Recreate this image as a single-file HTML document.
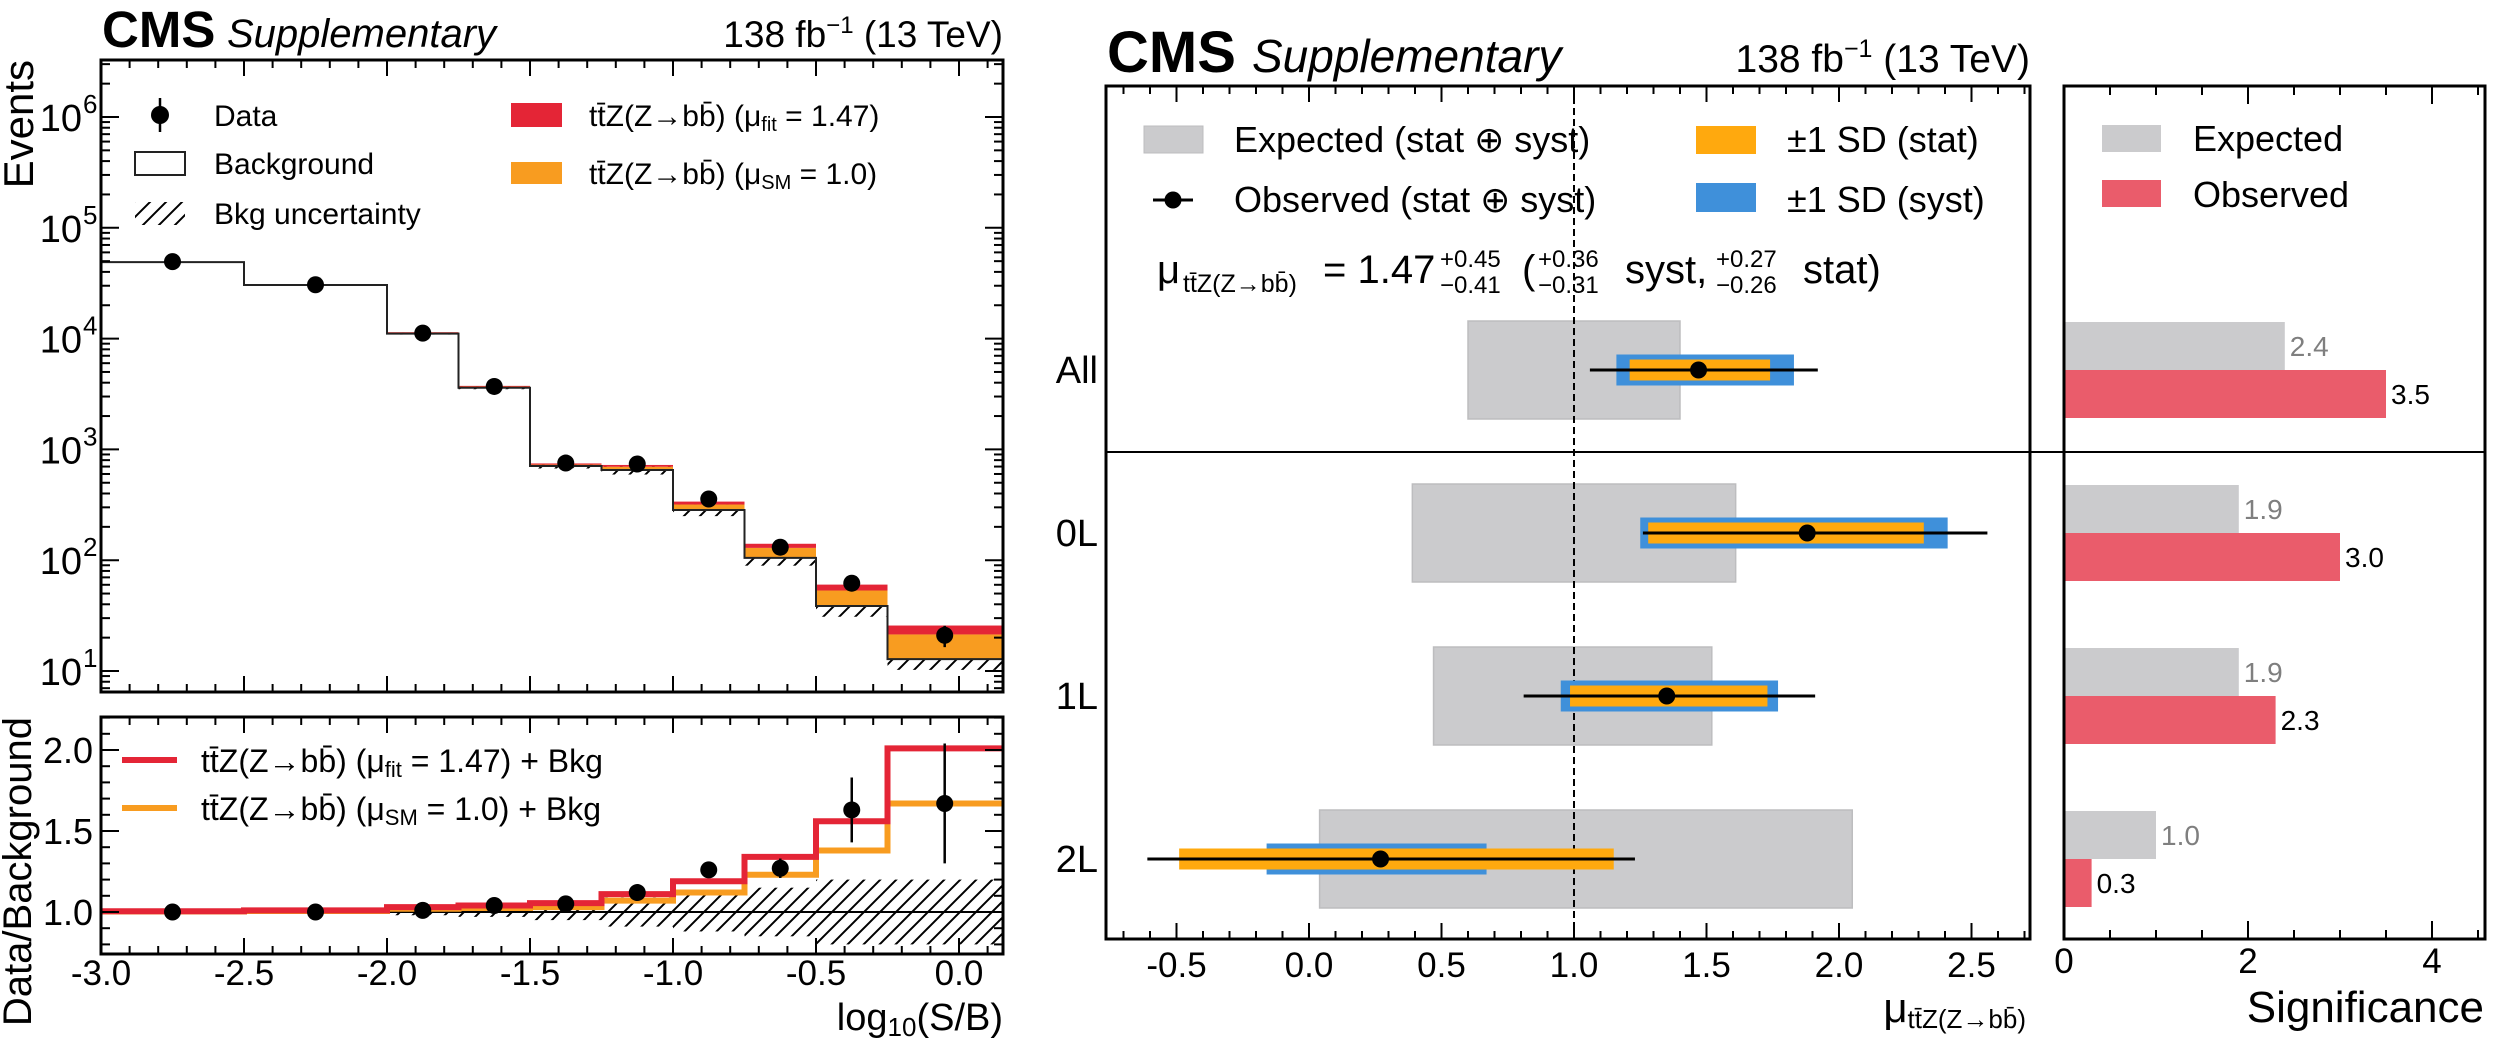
<!DOCTYPE html>
<html><head><meta charset="utf-8"><style>
html,body{margin:0;padding:0;background:#fff;}
svg{display:block;font-family:"Liberation Sans",Arial,sans-serif;}
</style></head><body>
<svg id="fig" xmlns="http://www.w3.org/2000/svg" width="2496" height="1049" viewBox="0 0 2496 1049">
<defs>
<pattern id="hatch" patternUnits="userSpaceOnUse" width="16" height="16">
<path d="M-4,4 L4,-4 M0,16 L16,0 M12,20 L20,12" stroke="#000" stroke-width="2"/>
</pattern>
<clipPath id="clipTop"><rect x="101" y="60" width="902" height="632"/></clipPath>
<clipPath id="clipRat"><rect x="101" y="717" width="902" height="237"/></clipPath>
<clipPath id="clipMid"><rect x="1106" y="86" width="924" height="853"/></clipPath>
</defs>
<g id="left"></g>
<g id="mid"></g>
<g id="right"></g>
</svg>
<script>
// ---------- Left chart data ----------
const binEdges = [-3.0, -2.5, -2.0, -1.75, -1.5, -1.25, -1.0, -0.75, -0.5, -0.25, 0.15];
const bkgCounts = [49000, 30500, 11100, 3600, 708, 652, 284, 105, 38.6, 12.8];
const dataCounts = [49500, 30600, 11200, 3700, 753, 738, 357, 131, 62, 21];
const sigFitRatio = [1.005, 1.01, 1.03, 1.04, 1.055, 1.11, 1.19, 1.34, 1.56, 2.01];
const sigSMRatio = [1.003, 1.006, 1.02, 1.025, 1.03, 1.07, 1.12, 1.23, 1.38, 1.67];
const dataRatio = [1.0, 1.0, 1.01, 1.04, 1.05, 1.12, 1.26, 1.27, 1.63, 1.67];
const dataRatioErr = [0.005, 0.006, 0.01, 0.015, 0.03, 0.03, 0.04, 0.06, 0.2, 0.37];
const bkgUnc = [0.01, 0.012, 0.02, 0.03, 0.05, 0.09, 0.12, 0.15, 0.2, 0.2];
const xTickLabels = ["-3.0", "-2.5", "-2.0", "-1.5", "-1.0", "-0.5", "0.0"];
const xTickValues = [-3.0, -2.5, -2.0, -1.5, -1.0, -0.5, 0.0];
const logTickExp = [1, 2, 3, 4, 5, 6];
const ratioTickLabels = ["1.0", "1.5", "2.0"];
const ratioTickValues = [1.0, 1.5, 2.0];
// ---------- Middle chart data ----------
const categories = ["All", "0L", "1L", "2L"];
const muObs = [1.47, 1.88, 1.35, 0.27];
const totLo = [1.06, 1.26, 0.81, -0.61];
const totHi = [1.92, 2.56, 1.91, 1.23];
const systLo = [1.16, 1.25, 0.95, -0.16];
const systHi = [1.83, 2.41, 1.77, 0.67];
const statLo = [1.21, 1.28, 0.985, -0.49];
const statHi = [1.74, 2.32, 1.73, 1.15];
const expLo = [0.60, 0.39, 0.47, 0.04];
const expHi = [1.40, 1.61, 1.52, 2.05];
const muTickLabels = ["-0.5", "0.0", "0.5", "1.0", "1.5", "2.0", "2.5"];
const muTickValues = [-0.5, 0.0, 0.5, 1.0, 1.5, 2.0, 2.5];
// ---------- Right chart data ----------
const sigExp = [2.4, 1.9, 1.9, 1.0];
const sigObs = [3.5, 3.0, 2.3, 0.3];
const sigTickLabels = ["0", "2", "4"];
const sigTickValues = [0, 2, 4];

const NS = "http://www.w3.org/2000/svg";
function mk(parent, tag, attrs, text) {
  const e = document.createElementNS(NS, tag);
  for (const k in attrs) e.setAttribute(k, attrs[k]);
  if (text !== undefined) e.textContent = text;
  parent.appendChild(e);
  return e;
}
const xL = v => 101 + (v + 3) * 286;
const yT = v => 117 + (6 - Math.log10(v)) * 110.8;
const yR = v => 912 - (v - 1) * 162;
const xM = v => 1309 + v * 265;
const catY = i => 370 + 163 * i;
const xS = v => 2064 + v * 92;
const AX = 101;

const L = document.getElementById('left');
const M = document.getElementById('mid');
const R = document.getElementById('right');

// ===== LEFT TOP =====
const gT = mk(L, 'g', {'clip-path': 'url(#clipTop)'});


for (let i = 0; i < bkgCounts.length; i++) {
  const x0 = xL(binEdges[i]), x1 = xL(binEdges[i + 1]);
  const b = bkgCounts[i];
  const h = mk(gT, 'rect', {x: x0, y: yT(b * (1 + bkgUnc[i])), width: x1 - x0, height: yT(b * (1 - bkgUnc[i])) - yT(b * (1 + bkgUnc[i])), fill: 'url(#hatch)'});
  
  
  const o = mk(gT, 'rect', {x: x0, y: yT(b * sigSMRatio[i]), width: x1 - x0, height: yT(b) - yT(b * sigSMRatio[i]), fill: '#f89c20'});
  
  
  const r = mk(gT, 'rect', {x: x0, y: yT(b * sigFitRatio[i]), width: x1 - x0, height: yT(b * sigSMRatio[i]) - yT(b * sigFitRatio[i]), fill: '#e42536'});
  
  
}
let dstep = 'M' + xL(binEdges[0]) + ',' + yT(bkgCounts[0]);
for (let i = 0; i < bkgCounts.length; i++) {
  if (i > 0) dstep += ' L' + xL(binEdges[i]) + ',' + yT(bkgCounts[i]);
  dstep += ' L' + xL(binEdges[i + 1]) + ',' + yT(bkgCounts[i]);
}
const bl = mk(gT, 'path', {d: dstep, fill: 'none', stroke: '#222', 'stroke-width': 2});


for (let i = 0; i < dataCounts.length; i++) {
  const cx = xL((binEdges[i] + binEdges[i + 1]) / 2);
  const c = mk(gT, 'circle', {cx: cx, cy: yT(dataCounts[i]), r: 8.5, fill: '#000'});
  
  
  const err = Math.sqrt(dataCounts[i]);
  mk(gT, 'line', {x1: cx, x2: cx, y1: yT(dataCounts[i] + err), y2: yT(Math.max(dataCounts[i] - err, 1)), stroke: '#000', 'stroke-width': 2.5});
}
function frame(par, x, y, w, h, name) {
  const f = mk(par, 'rect', {x: x, y: y, width: w, height: h, fill: 'none', stroke: '#000', 'stroke-width': 3});
  
  
}
function xTicks(par, sx, lo, hi, step, major, y0, y1, top) {
  for (let v = lo; v <= hi + 1e-9; v += step) {
    const isMaj = Math.abs(v / major - Math.round(v / major)) < 1e-6;
    const len = isMaj ? 16 : 8;
    const x = sx(v);
    mk(par, 'line', {x1: x, x2: x, y1: y1, y2: y1 - len, stroke: '#000', 'stroke-width': 2});
    if (top) mk(par, 'line', {x1: x, x2: x, y1: y0, y2: y0 + len, stroke: '#000', 'stroke-width': 2});
  }
}
frame(L, AX, 60, 1003 - AX, 632, 'events-axes-frame');
xTicks(L, xL, -3.0, 0.15, 0.1, 0.5, 60, 692, true);
for (let e = 0; e <= 6; e++) {
  for (let m = 1; m <= 9; m++) {
    const v = m * Math.pow(10, e);
    const y = yT(v);
    if (y < 60 || y > 692) continue;
    const len = m === 1 ? 18 : 9;
    mk(L, 'line', {x1: AX, x2: AX + len, y1: y, y2: y, stroke: '#000', 'stroke-width': 2});
    mk(L, 'line', {x1: 1003, x2: 1003 - len, y1: y, y2: y, stroke: '#000', 'stroke-width': 2});
  }
}
logTickExp.forEach(e => {
  const t = mk(L, 'text', {x: 82, y: yT(Math.pow(10, e)) + 14, 'font-size': 38, 'text-anchor': 'end'});
  
  
  t.textContent = '10';
  const s = mk(L, 'text', {x: 83, y: yT(Math.pow(10, e)) - 4, 'font-size': 26}, String(e));
  
  
});

// ===== LEFT RATIO =====
const gR = mk(L, 'g', {'clip-path': 'url(#clipRat)'});


for (let i = 0; i < bkgUnc.length; i++) {
  const x0 = xL(binEdges[i]), x1 = xL(binEdges[i + 1]);
  const hr = mk(gR, 'rect', {x: x0, y: yR(1 + bkgUnc[i]), width: x1 - x0, height: yR(1 - bkgUnc[i]) - yR(1 + bkgUnc[i]), fill: 'url(#hatch)'});
  
  
}
mk(gR, 'line', {x1: AX, x2: 1003, y1: yR(1), y2: yR(1), stroke: '#000', 'stroke-width': 2});
function stepPath(arr) {
  let d = '';
  for (let i = 0; i < arr.length; i++) {
    d += (i === 0 ? 'M' : ' L') + xL(binEdges[i]) + ',' + yR(arr[i]) + ' L' + xL(binEdges[i + 1]) + ',' + yR(arr[i]);
  }
  return d;
}
const ol = mk(gR, 'path', {d: stepPath(sigSMRatio), fill: 'none', stroke: '#f89c20', 'stroke-width': 6});


const rl = mk(gR, 'path', {d: stepPath(sigFitRatio), fill: 'none', stroke: '#e42536', 'stroke-width': 6});


for (let i = 0; i < dataRatio.length; i++) {
  const cx = xL((binEdges[i] + binEdges[i + 1]) / 2);
  mk(gR, 'line', {x1: cx, x2: cx, y1: yR(dataRatio[i] + dataRatioErr[i]), y2: yR(dataRatio[i] - dataRatioErr[i]), stroke: '#000', 'stroke-width': 2.5});
  const c = mk(gR, 'circle', {cx: cx, cy: yR(dataRatio[i]), r: 8.5, fill: '#000'});
  
  
}
frame(L, AX, 717, 1003 - AX, 237, 'ratio-axes-frame');
xTicks(L, xL, -3.0, 0.15, 0.1, 0.5, 717, 954, true);
for (let v = 0.8; v <= 2.2 + 1e-9; v += 0.1) {
  const maj = Math.abs(v * 2 - Math.round(v * 2)) < 1e-6;
  const len = maj ? 18 : 9;
  mk(L, 'line', {x1: AX, x2: AX + len, y1: yR(v), y2: yR(v), stroke: '#000', 'stroke-width': 2});
  mk(L, 'line', {x1: 1003, x2: 1003 - len, y1: yR(v), y2: yR(v), stroke: '#000', 'stroke-width': 2});
}
ratioTickLabels.forEach((s, i) => {
  const t = mk(L, 'text', {x: 93, y: yR(ratioTickValues[i]) + 13, 'font-size': 36, 'text-anchor': 'end'}, s);
  
  
});
xTickLabels.forEach((s, i) => {
  const t = mk(L, 'text', {x: xL(xTickValues[i]), y: 985, 'font-size': 35, 'text-anchor': 'middle'}, s);
  
  
});

// ===== MIDDLE =====
const gM = mk(M, 'g', {'clip-path': 'url(#clipMid)'});


for (let i = 0; i < categories.length; i++) {
  const cy = catY(i);
  const g = mk(gM, 'rect', {x: xM(expLo[i]), y: cy - 49, width: xM(expHi[i]) - xM(expLo[i]), height: 98, fill: '#cbcbcd', stroke: '#bdbdbf', 'stroke-width': 1.5});
  
  
}
mk(gM, 'line', {x1: xM(1), x2: xM(1), y1: 86, y2: 939, stroke: '#000', 'stroke-width': 2, 'stroke-dasharray': '7,4'});
for (let i = 0; i < categories.length; i++) {
  const cy = catY(i);
  const b = mk(gM, 'rect', {x: xM(systLo[i]), y: cy - 15.5, width: xM(systHi[i]) - xM(systLo[i]), height: 31, fill: '#3f90da'});
  
  
  const o = mk(gM, 'rect', {x: xM(statLo[i]), y: cy - 10.5, width: xM(statHi[i]) - xM(statLo[i]), height: 21, fill: '#ffa90e'});
  
  
  const l = mk(gM, 'line', {x1: xM(totLo[i]), x2: xM(totHi[i]), y1: cy, y2: cy, stroke: '#000', 'stroke-width': 3});
  
  
  const c = mk(gM, 'circle', {cx: xM(muObs[i]), cy: cy, r: 8.5, fill: '#000'});
  
  
  const t = mk(M, 'text', {x: 1098, y: cy + 13, 'font-size': 38, 'text-anchor': 'end'}, categories[i]);
  
  
}
mk(M, 'line', {x1: 1106, x2: 2485, y1: 452, y2: 452, stroke: '#000', 'stroke-width': 2});
frame(M, 1106, 86, 924, 853, 'mu-axes-frame');
xTicks(M, xM, -0.7, 2.7, 0.1, 0.5, 86, 939, true);
muTickLabels.forEach((s, i) => {
  const t = mk(M, 'text', {x: xM(muTickValues[i]), y: 977, 'font-size': 35, 'text-anchor': 'middle'}, s);
  
  
});

// ===== RIGHT =====
for (let i = 0; i < categories.length; i++) {
  const cy = catY(i);
  const e = mk(R, 'rect', {x: xS(0), y: cy - 48, width: xS(sigExp[i]) - xS(0), height: 48, fill: '#cbcbcd'});
  
  
  const o = mk(R, 'rect', {x: xS(0), y: cy, width: xS(sigObs[i]) - xS(0), height: 48, fill: '#ea5c6b'});
  
  
  const te = mk(R, 'text', {x: xS(sigExp[i]) + 5, y: cy - 14, 'font-size': 28, fill: '#7f7f7f'}, sigExp[i].toFixed(1));
  
  
  const to = mk(R, 'text', {x: xS(sigObs[i]) + 5, y: cy + 34, 'font-size': 28, fill: '#000'}, sigObs[i].toFixed(1));
  
  
}
frame(R, 2064, 86, 421, 853, 'significance-axes-frame');
for (let v = 0; v <= 4.55; v += 0.5) {
  const maj = Math.abs(v / 2 - Math.round(v / 2)) < 1e-6;
  const len = maj ? 18 : 9;
  mk(R, 'line', {x1: xS(v), x2: xS(v), y1: 939, y2: 939 - len, stroke: '#000', 'stroke-width': 2});
  mk(R, 'line', {x1: xS(v), x2: xS(v), y1: 86, y2: 86 + len, stroke: '#000', 'stroke-width': 2});
}
sigTickLabels.forEach((s, i) => {
  const t = mk(R, 'text', {x: xS(sigTickValues[i]), y: 973, 'font-size': 35, 'text-anchor': 'middle'}, s);
  
  
});
</script>

<svg xmlns="http://www.w3.org/2000/svg" width="2496" height="1049" viewBox="0 0 2496 1049" style="position:absolute;left:0;top:0;font-family:'Liberation Sans',Arial,sans-serif;">
<g>
<text x="102" y="47" font-size="51" font-weight="bold">CMS</text>
<text x="227" y="47" font-size="40" font-style="italic">Supplementary</text>
<text x="1003" y="47" font-size="37" text-anchor="end">138 fb<tspan dy="-14" font-size="24">−1</tspan><tspan dy="14"> (13 TeV)</tspan></text>
</g>
<text transform="translate(33,60) rotate(-90)" font-size="42" text-anchor="end">Events</text>
<text transform="translate(31,717) rotate(-90)" font-size="40" text-anchor="end">Data/Background</text>
<text x="1003" y="1030" font-size="38" text-anchor="end">log<tspan font-size="26" dy="6">10</tspan><tspan dy="-6">(S/B)</tspan></text>

<g>
<line x1="160" x2="160" y1="98" y2="132" stroke="#000" stroke-width="2.5"/>
<circle cx="160" cy="115" r="9" fill="#000"/>
<text x="214" y="126" font-size="30">Data</text>
<rect x="135" y="152" width="50" height="23" fill="#fff" stroke="#222" stroke-width="2"/>
<text x="214" y="174" font-size="30">Background</text>
<rect x="135" y="202" width="50" height="23" fill="url(#hatch)"/>
<text x="214" y="224" font-size="30">Bkg uncertainty</text>
<rect x="511" y="103" width="51" height="24" fill="#e42536"/>
<text x="589" y="126" font-size="30">tt̄Z(Z→bb̄) (μ<tspan font-size="20" dy="5">fit</tspan><tspan dy="-5"> = 1.47)</tspan></text>
<rect x="511" y="162" width="51" height="22" fill="#f89c20"/>
<text x="589" y="184" font-size="30">tt̄Z(Z→bb̄) (μ<tspan font-size="20" dy="5">SM</tspan><tspan dy="-5"> = 1.0)</tspan></text>
</g>
<g>
<line x1="122" x2="177" y1="760" y2="760" stroke="#e42536" stroke-width="6"/>
<text x="201" y="772" font-size="32">tt̄Z(Z→bb̄) (μ<tspan font-size="22" dy="5">fit</tspan><tspan dy="-5"> = 1.47) + Bkg</tspan></text>
<line x1="122" x2="177" y1="808" y2="808" stroke="#f89c20" stroke-width="6"/>
<text x="201" y="820" font-size="32">tt̄Z(Z→bb̄) (μ<tspan font-size="22" dy="5">SM</tspan><tspan dy="-5"> = 1.0) + Bkg</tspan></text>
</g>

<g>
<text x="1107" y="72" font-size="58" font-weight="bold">CMS</text>
<text x="1252" y="72" font-size="46" font-style="italic">Supplementary</text>
<text x="2030" y="72" font-size="39" text-anchor="end">138 fb<tspan dy="-15" font-size="25">−1</tspan><tspan dy="15"> (13 TeV)</tspan></text>
</g>
<g>
<rect x="1144" y="126" width="59" height="27" fill="#cbcbcd" stroke="#bdbdbf"/>
<text x="1234" y="152" font-size="36">Expected (stat ⊕ syst)</text>
<line x1="1153" x2="1193" y1="200" y2="200" stroke="#000" stroke-width="3"/>
<circle cx="1173" cy="200" r="8.5" fill="#000"/>
<text x="1234" y="212" font-size="36">Observed (stat ⊕ syst)</text>
<rect x="1696" y="126" width="60" height="28" fill="#ffa90e"/>
<text x="1787" y="152" font-size="36">±1 SD (stat)</text>
<rect x="1696" y="183" width="60" height="29" fill="#3f90da"/>
<text x="1787" y="212" font-size="36">±1 SD (syst)</text>
</g>
<g>
<text x="1157" y="283" font-size="40">μ</text>
<text x="1183" y="292" font-size="25">tt̄Z(Z→bb̄)</text>
<text x="1323" y="283" font-size="40">= 1.47</text>
<text x="1440" y="267" font-size="24">+0.45</text>
<text x="1440" y="293" font-size="24">−0.41</text>
<text x="1522" y="283" font-size="40">(</text>
<text x="1538" y="267" font-size="24">+0.36</text>
<text x="1538" y="293" font-size="24">−0.31</text>
<text x="1625" y="283" font-size="40">syst,</text>
<text x="1716" y="267" font-size="24">+0.27</text>
<text x="1716" y="293" font-size="24">−0.26</text>
<text x="1803" y="283" font-size="40">stat)</text>
</g>
<text x="2026" y="1022" font-size="42" text-anchor="end">μ<tspan font-size="26" dy="6">tt̄Z(Z→bb̄)</tspan></text>

<g>
<rect x="2102" y="125" width="59" height="27" fill="#cbcbcd"/>
<text x="2193" y="151" font-size="36">Expected</text>
<rect x="2102" y="180" width="59" height="27" fill="#ea5c6b"/>
<text x="2193" y="207" font-size="36">Observed</text>
</g>
<text x="2484" y="1022" font-size="44" text-anchor="end">Significance</text>
</svg>
</body></html>
